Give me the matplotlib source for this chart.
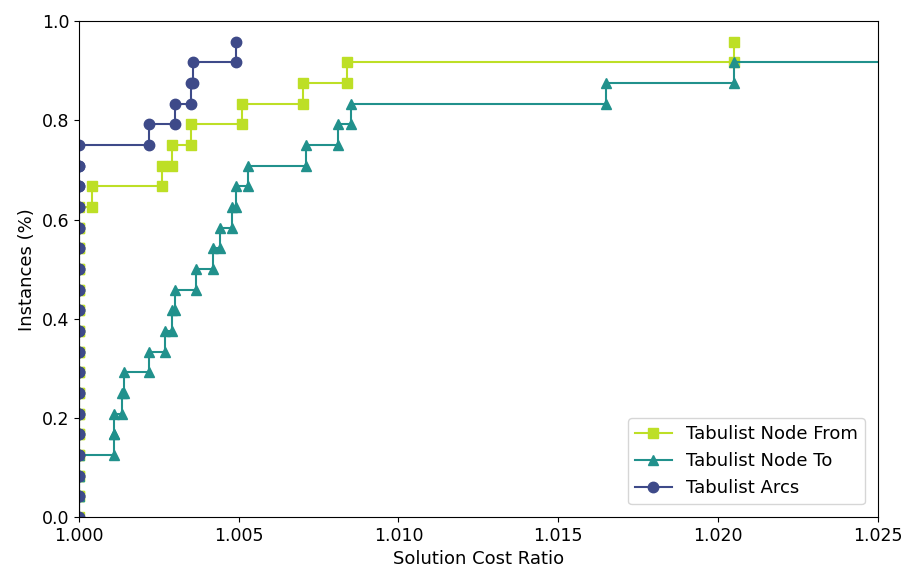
import numpy as np
import matplotlib
matplotlib.use("Agg")
import matplotlib.pyplot as plt

# number of instances
n_instances = 24

# sorted cost ratios per method
ratios_from = [1.0] * 15 + [1.0004, 1.0026, 1.0029, 1.0035, 1.0051,
                            1.0070, 1.0084, 1.0205]
ratios_to = [1.0] * 3 + [1.0011, 1.0011, 1.00136, 1.00142, 1.0022, 1.0027,
                         1.0029, 1.0030, 1.00366, 1.0042, 1.0044, 1.0048,
                         1.0049, 1.0053, 1.0071, 1.0081, 1.0085, 1.0165,
                         1.0205, 1.0300]
ratios_arcs = [1.0] * 18 + [1.0022, 1.0030, 1.0035, 1.00358, 1.0049]

labels = ["Tabulist Node From", "Tabulist Node To", "Tabulist Arcs"]
colors = ["#bddf26", "#21918c", "#3e4a89"]
markers = ["s", "^", "o"]


def profile(ratios, n):
    # staircase with a point at both corners of every step
    xs, ys = [], []
    for i, r in enumerate(ratios):
        xs += [r, r]
        ys += [i / n, (i + 1) / n]
    return xs, ys


fig, ax = plt.subplots(figsize=(9.03, 5.72), dpi=100)

for ratios, lab, col, mk in zip([ratios_from, ratios_to, ratios_arcs],
                                labels, colors, markers):
    xs, ys = profile(ratios, n_instances)
    ax.plot(xs, ys, color=col, marker=mk, markersize=7.5, linewidth=1.5,
            label=lab)

ax.set_xlim(1.0, 1.025)
ax.set_ylim(0.0, 1.0)
ax.set_xticks(np.arange(1.0, 1.0251, 0.005))
ax.xaxis.set_major_formatter(matplotlib.ticker.FormatStrFormatter("%.3f"))
ax.set_yticks(np.arange(0.0, 1.01, 0.2))
ax.yaxis.set_major_formatter(matplotlib.ticker.FormatStrFormatter("%.1f"))
ax.tick_params(labelsize=12.5)
ax.set_xlabel("Solution Cost Ratio", fontsize=13)
ax.set_ylabel("Instances (%)", fontsize=13)
ax.legend(loc="lower right", fontsize=13, borderaxespad=0.7)

fig.subplots_adjust(left=0.0875, right=0.972, top=0.963, bottom=0.096)
fig.savefig("out.png")
